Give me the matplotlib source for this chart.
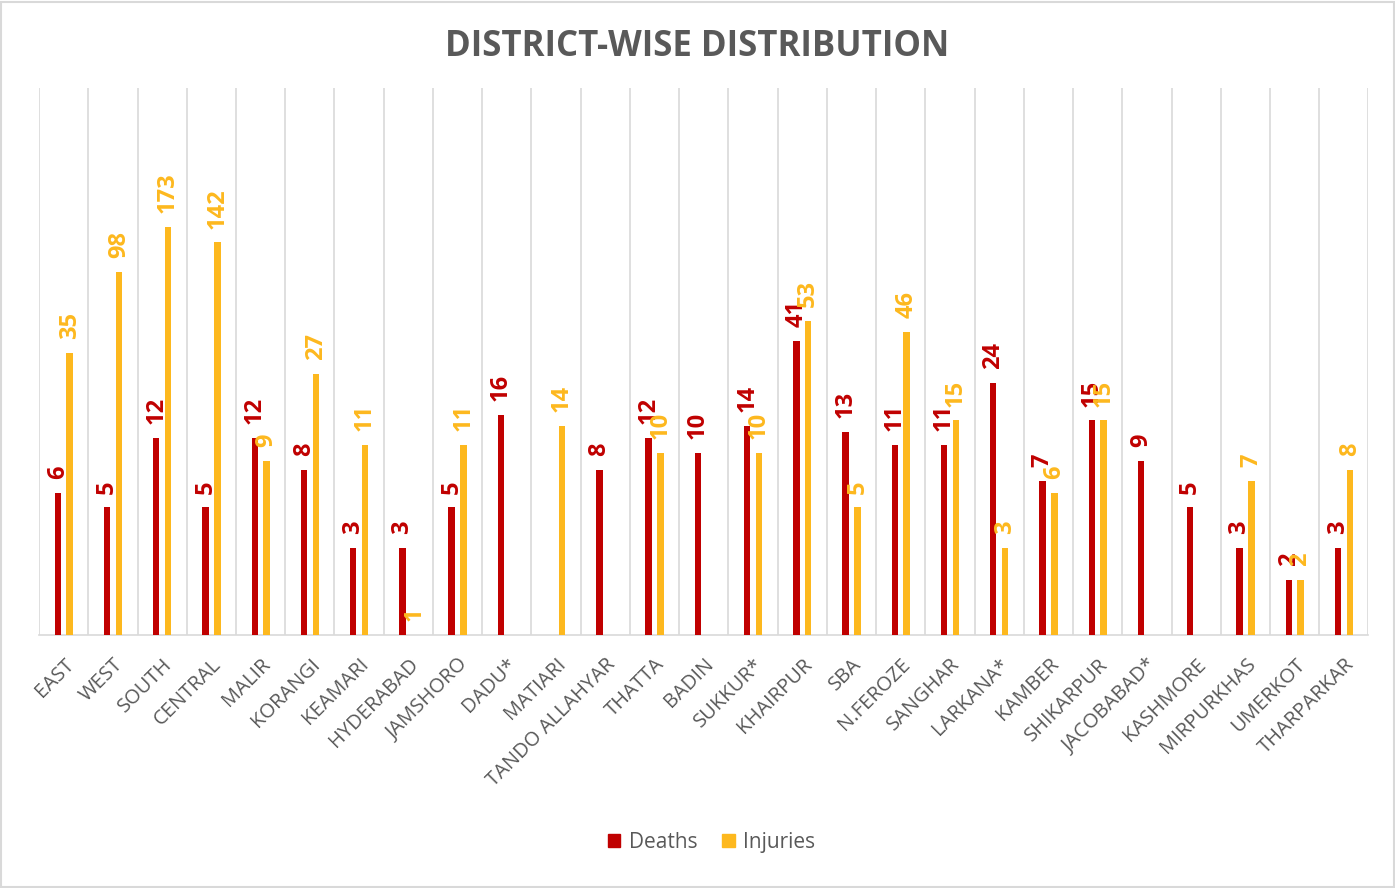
import numpy as np
import matplotlib
matplotlib.use("Agg")
import matplotlib.pyplot as plt
from matplotlib.patches import Patch, Rectangle

districts = ["EAST", "WEST", "SOUTH", "CENTRAL", "MALIR", "KORANGI", "KEAMARI",
             "HYDERABAD", "JAMSHORO", "DADU*", "MATIARI", "TANDO ALLAHYAR",
             "THATTA", "BADIN", "SUKKUR*", "KHAIRPUR", "SBA", "N.FEROZE",
             "SANGHAR", "LARKANA*", "KAMBER", "SHIKARPUR", "JACOBABAD*",
             "KASHMORE", "MIRPURKHAS", "UMERKOT", "THARPARKAR"]
deaths = [6, 5, 12, 5, 12, 8, 3, 3, 5, 16, None, 8, 12, 10, 14, 41, 13, 11,
          11, 24, 7, 15, 9, 5, 3, 2, 3]
injuries = [35, 98, 173, 142, 9, 27, 11, 1, 11, None, 14, None, 10, None, 10,
            53, 5, 46, 15, 3, 6, 15, None, None, 7, 2, 8]

red = "#C00000"
gold = "#FDB81E"
grey = "#595959"

plt.rcParams['font.family'] = ['Open Sans', 'DejaVu Sans']

fig = plt.figure(figsize=(13.95, 8.88), dpi=100)
ax = fig.add_axes([0.028, 0.285, 0.953, 0.616])
ax.set_yscale("log")

x = np.arange(len(districts))
w = 0.13
off = 0.12

for vals, shift, col in [(deaths, -off, red), (injuries, off, gold)]:
    for xi, v in zip(x, vals):
        if v is None:
            continue
        ax.bar(xi + shift, v - 1, bottom=1, width=w, color=col, zorder=3)
        ax.annotate(str(v), (xi + shift, v), xytext=(0, 10),
                    textcoords="offset points", rotation=90, ha="center",
                    va="bottom", color=col, fontsize=17, fontweight="bold",
                    zorder=4)

ax.set_ylim(1, 1000)
ax.set_xlim(-0.5, len(districts) - 0.5)

# vertical gridlines between categories
for b in np.arange(-0.5, len(districts), 1.0):
    ax.axvline(b, color="#D9D9D9", lw=1.2, zorder=1)

ax.set_yticks([])
ax.yaxis.set_minor_locator(matplotlib.ticker.NullLocator())
ax.set_xticks(x)
ax.set_xticklabels(districts, rotation=45, ha="right", va="top",
                   rotation_mode="anchor", fontsize=14.5, color=grey)
ax.tick_params(axis="x", length=0, pad=14)
for s in ["top", "left", "right"]:
    ax.spines[s].set_visible(False)
ax.spines["bottom"].set_color("#D9D9D9")
ax.spines["bottom"].set_linewidth(1.2)

fig.text(0.5, 0.947, "DISTRICT-WISE DISTRIBUTION", ha="center", va="center",
         fontsize=25, fontweight="bold", color=grey)

handles = [Patch(color=red, label="Deaths"), Patch(color=gold, label="Injuries")]
fig.legend(handles=handles, loc="center", bbox_to_anchor=(0.51, 0.051), ncol=2,
           frameon=False, fontsize=15, labelcolor=grey, handlelength=0.6,
           handleheight=0.6, handletextpad=0.4, columnspacing=1.2)

fig.patches.append(Rectangle((0.001, 0.001), 0.998, 0.997, transform=fig.transFigure,
                             fill=False, edgecolor="#D9D9D9", lw=1.5))

fig.savefig("out.png", dpi=100)
